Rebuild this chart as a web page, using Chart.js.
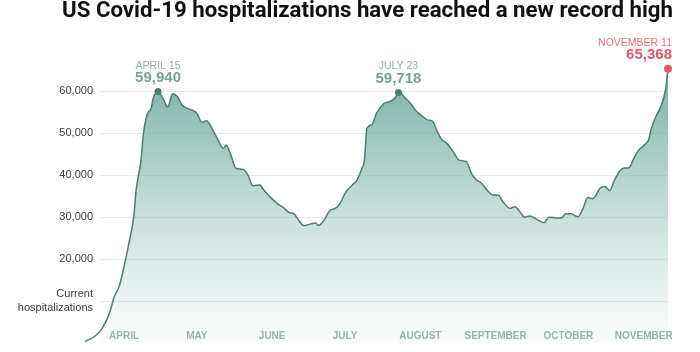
<!DOCTYPE html>
<html><head><meta charset="utf-8">
<script src="https://cdn.jsdelivr.net/npm/chart.js@4.4.1/dist/chart.umd.min.js"></script>
<style>
html,body{margin:0;padding:0;background:#fff;width:700px;height:352px;overflow:hidden}
#title{position:absolute;left:62px;top:-4px;margin:0;font:700 22px Roboto,"Liberation Sans",sans-serif;color:#111;white-space:nowrap;transform-origin:0 0;line-height:28px;z-index:2}
canvas{position:absolute;left:0;top:0}
</style></head><body>
<h1 id="title">US Covid-19 hospitalizations have reached a new record high</h1>
<canvas id="c" width="700" height="352"></canvas>
<script>
// day index counted from 1 March 2020 (1 April = 31)
const days = [
  15,19,22,25,27,29,31,33,35,36,
  38,39,41,42,43,45,47,49,51,53,
  55,59,61,63,65,66,69,72,73,75,
  77,80,82,84,87,88,91,94,97,99,
  101,103,105,108,110,111,113,116,118,120,
  122,125,127,129,130,131,133,135,138,141,
  143,144,147,149,151,154,156,158,160,162,
  164,167,169,172,174,176,178,181,183,185,
  187,190,192,194,196,198,200,204,206,209,
  211,213,215,218,220,222,224,225,227,229,
  231,233,235,237,239,241,243,246,247,248,
  250,252,254,255];
const hospitalized = [
  400,1600,3500,7100,11100,13500,18200,23800,30100,36500,
  43600,50000,55100,55600,58300,59940,58300,56300,59400,58700,
  56700,55500,54800,52600,53000,52400,49200,46400,47200,44800,
  41700,41400,40100,37500,37700,36900,34900,33300,32100,31100,
  30800,29200,28000,28400,28600,28000,29000,31700,32100,33300,
  35700,37700,38900,41700,43600,51200,52000,54800,57100,57700,
  58700,59718,58300,57100,55500,54000,53200,52900,50400,48400,
  47600,45200,43600,43200,40500,38900,38200,36100,35300,35300,
  33700,32100,32500,31300,30000,30300,29800,28700,30000,29800,
  29800,30800,30800,30100,32100,34700,34400,34900,36900,37300,
  36300,38900,40900,41700,41800,44100,46000,47600,48400,50800,
  54000,56300,60500,65368];
const monthTicks = [31,61,92,122,153,184,214,245];
const monthLabels = ['APRIL','MAY','JUNE','JULY','AUGUST','SEPTEMBER','OCTOBER','NOVEMBER'];
const yTicks = [10000,20000,30000,40000,50000,60000];
const yTickLabels = [['Current','hospitalizations'],'20,000','30,000','40,000','50,000','60,000'];
const highlightDays = [45,144,255];
const highlightLabels = ['APRIL 15','JULY 23','NOVEMBER 11'];
const xRange = [21.1, 255];

// fit title
const t = document.getElementById('title');
const tw = t.getBoundingClientRect().width;
t.style.transform = 'scaleX(' + (611 / tw) + ')';

const highlightIdx = highlightDays.map(d => days.indexOf(d));
const lastIdx = highlightIdx[highlightIdx.length - 1];
const TEAL = '#4c7d72';
const RED = '#e05a6a';
const FONT = '"Liberation Sans", Arial, sans-serif';

const annotate = {
  id: 'annotate',
  afterDatasetsDraw(chart) {
    const ctx = chart.ctx;
    const xs = chart.scales.x;
    // month labels, drawn just above the baseline like the original
    ctx.save();
    ctx.font = 'bold 10px ' + FONT;
    ctx.fillStyle = '#94b4ac';
    ctx.textAlign = 'center';
    ctx.textBaseline = 'middle';
    monthTicks.forEach((v, i) => {
      ctx.fillText(monthLabels[i], xs.getPixelForValue(v), chart.chartArea.bottom - 7);
    });
    ctx.restore();

    const meta = chart.getDatasetMeta(0);
    highlightIdx.forEach((idx, k) => {
      const pt = meta.data[idx];
      const isLast = idx === lastIdx;
      const x = isLast ? pt.x + 4 : pt.x;
      ctx.save();
      ctx.textAlign = isLast ? 'right' : 'center';
      ctx.textBaseline = 'middle';
      ctx.fillStyle = isLast ? '#e3717e' : '#8db3a9';
      ctx.font = '10.5px ' + FONT;
      ctx.fillText(highlightLabels[k], x, pt.y - 26);
      ctx.fillStyle = isLast ? '#d95a6b' : '#77a396';
      ctx.font = 'bold 15px ' + FONT;
      ctx.fillText(hospitalized[idx].toLocaleString('en-US'), x, pt.y - 14);
      ctx.restore();
    });
  }
};

new Chart(document.getElementById('c'), {
  type: 'line',
  data: {
    datasets: [{
      data: days.map((d, i) => ({x: d, y: hospitalized[i]})),
      borderColor: TEAL,
      borderWidth: 1.5,
      cubicInterpolationMode: 'monotone',
      clip: false,
      fill: 'origin',
      backgroundColor: (c) => {
        const a = c.chart.chartArea;
        if (!a) return 'rgba(90,150,135,0.5)';
        const g = c.chart.ctx.createLinearGradient(0, a.top, 0, a.bottom);
        g.addColorStop(0, 'rgba(92,160,146,0.86)');
        g.addColorStop(0.5, 'rgba(110,172,160,0.42)');
        g.addColorStop(1, 'rgba(130,185,175,0.03)');
        return g;
      },
      pointRadius: (c) => highlightIdx.includes(c.dataIndex) ? (c.dataIndex === lastIdx ? 4 : 3.5) : 0,
      pointHoverRadius: 0,
      pointBorderWidth: 0,
      pointBackgroundColor: (c) => c.dataIndex === lastIdx ? RED : TEAL
    }]
  },
  options: {
    responsive: false,
    animation: false,
    layout: {padding: {left: 0, right: 32, top: 62, bottom: 9}},
    plugins: {legend: {display: false}, tooltip: {enabled: false}},
    scales: {
      x: {
        type: 'linear',
        bounds: 'data',
        afterBuildTicks: (s) => { s.ticks = monthTicks.map(v => ({value: v})); s.min = xRange[0]; s.max = xRange[1]; },
        afterFit: (s) => { s.height = 0; s.paddingLeft = 0; s.paddingRight = 0; },
        grid: {display: false, drawTicks: false},
        border: {display: false},
        ticks: {display: false}
      },
      y: {
        min: 0,
        max: 67000,
        afterBuildTicks: (s) => { s.ticks = yTicks.map(v => ({value: v})); },
        afterFit: (s) => { s.width = 100; s.paddingTop = 0; s.paddingBottom = 0; },
        grid: {color: '#e8e8ea', lineWidth: 1, drawTicks: false},
        border: {display: false},
        ticks: {
          padding: 7,
          color: '#3c3c3c',
          font: {family: FONT, size: 11},
          callback: (v) => yTickLabels[yTicks.indexOf(v)]
        }
      }
    }
  },
  plugins: [annotate]
});
</script>
</body></html>
